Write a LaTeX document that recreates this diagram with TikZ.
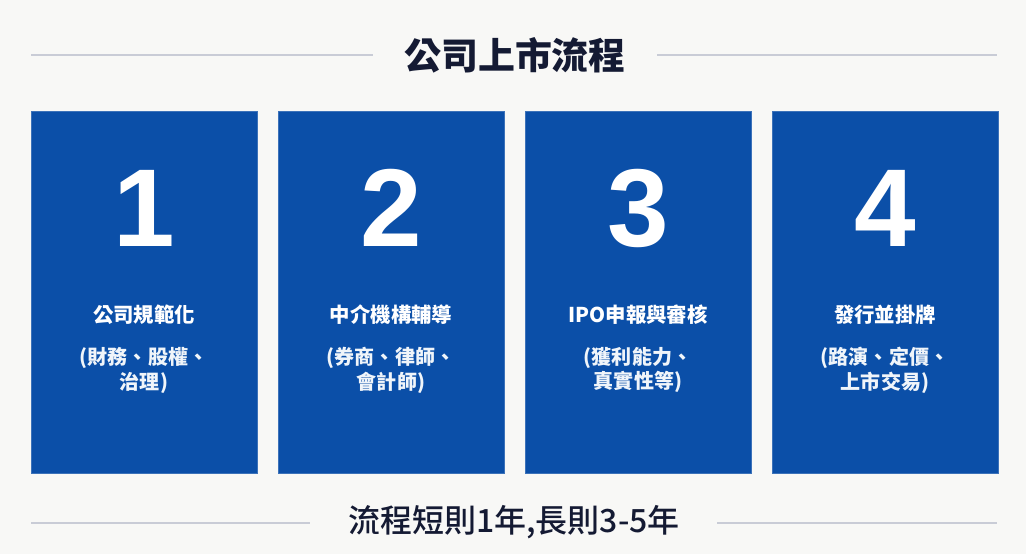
\documentclass[tikz,border=0pt]{standalone}
\usepackage{fontspec}
\setmainfont{Noto Sans CJK TC}
\newfontfamily\numfont{Liberation Sans}
\newfontfamily\medfont{Noto Sans CJK TC Medium}
\definecolor{cardblue}{HTML}{0B4FA8}
\definecolor{inkblue}{HTML}{141A33}
\definecolor{rulegray}{HTML}{C9CCD6}
\definecolor{paper}{HTML}{F8F8F6}

\begin{document}
\begin{tikzpicture}[
    x=0.02cm, y=-0.02cm,
    card/.style={rectangle, fill=cardblue, draw=cardblue!80!white, line width=0.3pt, minimum width=4.52cm, minimum height=7.24cm, inner sep=0pt},
    bignum/.style={text=white, font=\numfont\bfseries\fontsize{63}{63}\selectfont, inner sep=0pt},
    cardtitle/.style={text=white, font=\bfseries\fontsize{11.6}{14}\selectfont, inner sep=0pt},
    cardnote/.style={text=white!94!cardblue, font=\bfseries\fontsize{11.4}{14.2}\selectfont, align=center, inner sep=0pt},
    heading/.style={text=inkblue, font=\bfseries\fontsize{21}{21}\selectfont, inner sep=0pt},
    footnote/.style={text=inkblue, font=\medfont\fontsize{18.2}{18}\selectfont, inner sep=0pt},
    rule/.style={draw=rulegray, line width=0.6pt}
]

% Background and frame
\fill[paper] (0,0) rectangle (1026,554);
\useasboundingbox (0,0) rectangle (1026,554);

% Title
\node[heading] (title) at (515,55) {公司上市流程};
\coordinate (tl1) at (31,55);  \coordinate (tl2) at (373,55);
\coordinate (tr1) at (657,55); \coordinate (tr2) at (997,55);
\draw[rule] (tl1) -- (tl2);
\draw[rule] (tr1) -- (tr2);

% Step cards
\node[card] (card1) at (144,292) {};
\node[card] (card2) at (391,292) {};
\node[card] (card3) at (638,292) {};
\node[card] (card4) at (885,292) {};

% Step numbers
\node[bignum] (num1) at (144,208) {1};
\node[bignum] (num2) at (391,208) {2};
\node[bignum] (num3) at (638,208) {3};
\node[bignum] (num4) at (885,208) {4};

% Step names
\node[cardtitle] (name1) at (144,315) {公司規範化};
\node[cardtitle] (name2) at (391,315) {中介機構輔導};
\node[cardtitle] (name3) at (638,315) {IPO申報與審核};
\node[cardtitle] (name4) at (885,315) {發行並掛牌};

% Step notes
\node[cardnote] (note1) at (144,370) {(財務、股權、\\治理)};
\node[cardnote] (note2) at (391,370) {(券商、律師、\\會計師)};
\node[cardnote] (note3) at (638,370) {(獲利能力、\\真實性等)};
\node[cardnote] (note4) at (885,370) {(路演、定價、\\上市交易)};

% Duration
\node[footnote] (span) at (514,522) {流程短則1年,長則3-5年};
\coordinate (bl1) at (31,523);  \coordinate (bl2) at (310,523);
\coordinate (br1) at (717,523); \coordinate (br2) at (997,523);
\draw[rule] (bl1) -- (bl2);
\draw[rule] (br1) -- (br2);

\end{tikzpicture}
\end{document}
